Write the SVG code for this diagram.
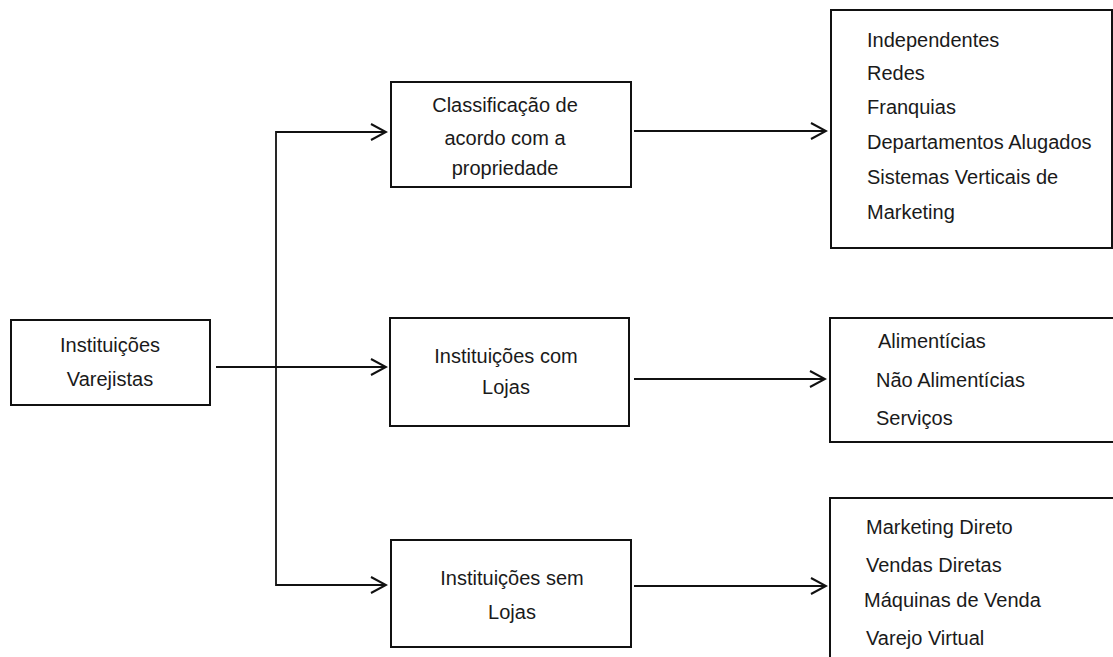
<svg xmlns="http://www.w3.org/2000/svg" width="1113" height="657" viewBox="0 0 1113 657">
<style>
.box{fill:#fff;stroke:#111;stroke-width:2}
.t{font-family:"Liberation Sans",Arial,sans-serif;font-size:20px;fill:#1a1a1a}
.c{text-anchor:middle}
.ln{fill:none;stroke:#111;stroke-width:1.8}
</style>
<defs>
<marker id="arr" viewBox="-18 -10 20 20" refX="0" refY="0" markerWidth="20" markerHeight="20" markerUnits="userSpaceOnUse" orient="auto">
<path d="M-15,-8 L0,0 L-15,8" fill="none" stroke="#111" stroke-width="2"/>
</marker>
</defs>
<rect width="1113" height="657" fill="#fff"/>
<g id="connectors">
<path class="ln" d="M216 367 H386" marker-end="url(#arr)"/>
<path class="ln" d="M276 367 V132 H386" marker-end="url(#arr)"/>
<path class="ln" d="M276 367 V585 H386" marker-end="url(#arr)"/>
<path class="ln" d="M634 131 H826" marker-end="url(#arr)"/>
<path class="ln" d="M634 379 H825" marker-end="url(#arr)"/>
<path class="ln" d="M634 586 H826" marker-end="url(#arr)"/>
</g>
<g id="varejistas">
<rect class="box" x="11" y="320" width="199" height="85"/>
<text class="t c" x="110" y="352">Instituições</text>
<text class="t c" x="110" y="386">Varejistas</text>
</g>
<g id="propriedade">
<rect class="box" x="391" y="82" width="240" height="105"/>
<text class="t c" x="505" y="112">Classificação de</text>
<text class="t c" x="505" y="145">acordo com a</text>
<text class="t c" x="505" y="175">propriedade</text>
</g>
<g id="com-lojas">
<rect class="box" x="390" y="318" width="239" height="108"/>
<text class="t c" x="506" y="363">Instituições com</text>
<text class="t c" x="506" y="394">Lojas</text>
</g>
<g id="sem-lojas">
<rect class="box" x="391" y="540" width="240" height="107"/>
<text class="t c" x="512" y="585">Instituições sem</text>
<text class="t c" x="512" y="619">Lojas</text>
</g>
<g id="tipos-propriedade">
<rect class="box" x="831" y="10" width="281" height="238"/>
<text class="t" x="867" y="47">Independentes</text>
<text class="t" x="867" y="80">Redes</text>
<text class="t" x="867" y="114">Franquias</text>
<text class="t" x="867" y="149">Departamentos Alugados</text>
<text class="t" x="867" y="184">Sistemas Verticais de</text>
<text class="t" x="867" y="219">Marketing</text>
</g>
<g id="tipos-com-lojas">
<rect class="box" x="830" y="318" width="300" height="124"/>
<text class="t" x="878" y="348">Alimentícias</text>
<text class="t" x="876" y="387">Não Alimentícias</text>
<text class="t" x="876" y="425">Serviços</text>
</g>
<g id="tipos-sem-lojas">
<rect class="box" x="830" y="498" width="300" height="180"/>
<text class="t" x="866" y="534">Marketing Direto</text>
<text class="t" x="866" y="572">Vendas Diretas</text>
<text class="t" x="864" y="607">Máquinas de Venda</text>
<text class="t" x="866" y="645">Varejo Virtual</text>
</g>
</svg>
